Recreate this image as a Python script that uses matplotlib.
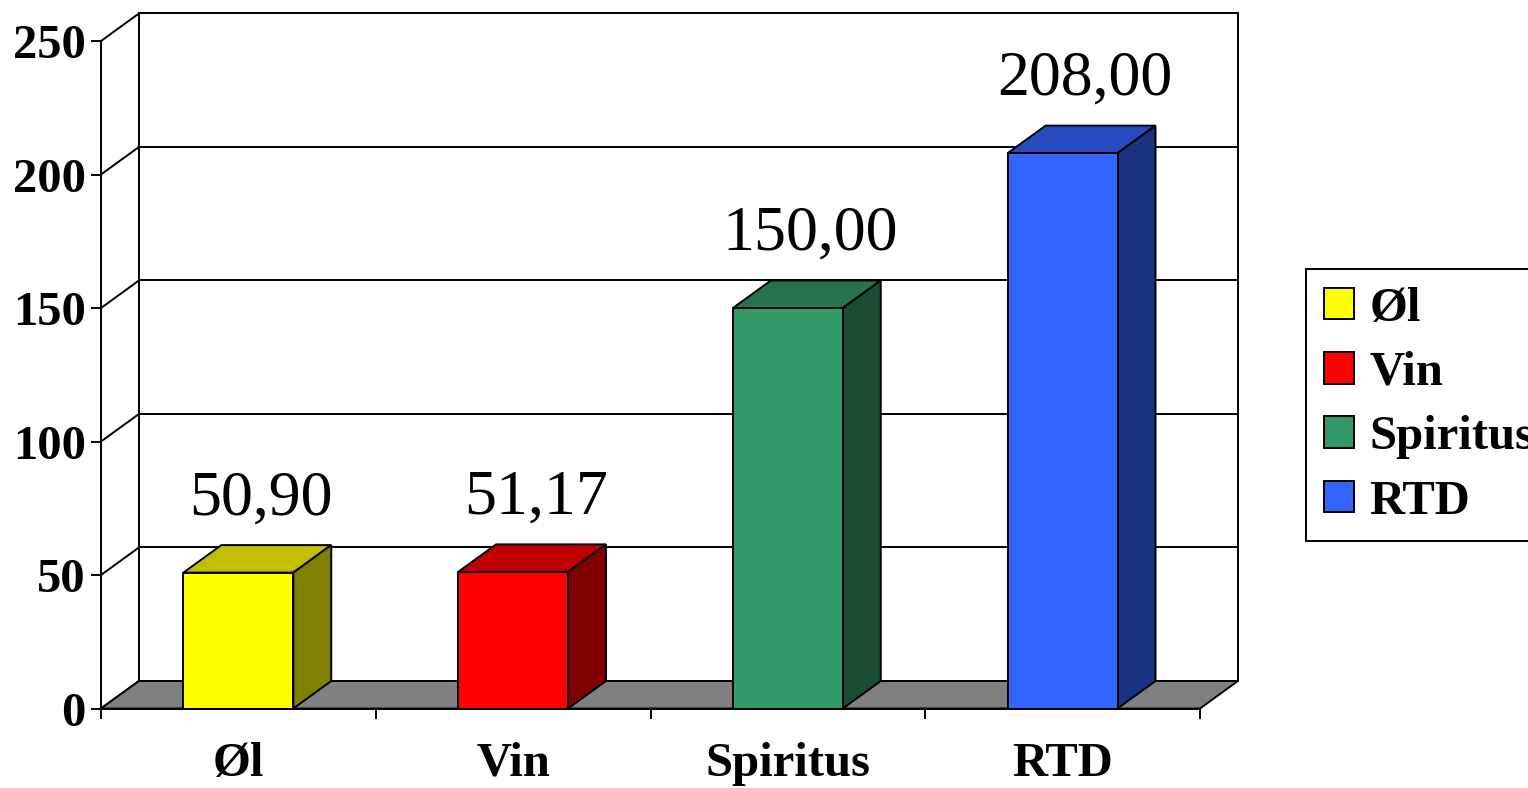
import matplotlib.pyplot as plt
from matplotlib.patches import Polygon, Rectangle


categories = ['Øl', 'Vin', 'Spiritus', 'RTD']
values = [50.90, 51.17, 150.00, 208.00]
front_colors = ['#FFFF00', '#FF0000', '#339966', '#3366FF']
top_colors = ['#C0C000', '#C00000', '#267350', '#264CC0']
side_colors = ['#808000', '#800000', '#1A4D33', '#1A3380']
y_ticks = [0, 50, 100, 150, 200, 250]

FIG_W, FIG_H = 1528, 788
DEPTH_X = 0.138   # depth offset, category units
DEPTH_Y = 10.3    # depth offset, value units
BAR_W = 0.4
LW = 1.4
BOLD = dict(family='Liberation Serif', weight='bold', size=35)


def fig_rect(left, top, right, bottom):
    return [left / FIG_W, 1 - bottom / FIG_H, (right - left) / FIG_W, (bottom - top) / FIG_H]


def draw_walls(ax, n, ymax):
    x0, x1 = -0.5, n - 0.5
    # back wall
    ax.add_patch(Rectangle((x0 + DEPTH_X, DEPTH_Y), x1 - x0, ymax, facecolor='white',
                           edgecolor='black', lw=LW, clip_on=False, zorder=1))
    for v in y_ticks:
        ax.plot([x0 + DEPTH_X, x1 + DEPTH_X], [v + DEPTH_Y, v + DEPTH_Y], color='black',
                lw=LW, clip_on=False, zorder=2)
        ax.plot([x0, x0 + DEPTH_X], [v, v + DEPTH_Y], color='black', lw=LW,
                clip_on=False, zorder=2)
    # floor
    floor = [(x0, 0), (x1, 0), (x1 + DEPTH_X, DEPTH_Y), (x0 + DEPTH_X, DEPTH_Y)]
    ax.add_patch(Polygon(floor, closed=True, facecolor='#808080', edgecolor='black',
                         lw=LW, clip_on=False, zorder=3))


def draw_bar(ax, xc, h, front, top, side, label):
    x0, x1 = xc - BAR_W / 2, xc + BAR_W / 2
    ax.add_patch(Polygon([(x0, h), (x1, h), (x1 + DEPTH_X, h + DEPTH_Y), (x0 + DEPTH_X, h + DEPTH_Y)],
                         closed=True, facecolor=top, edgecolor='black', lw=LW,
                         clip_on=False, zorder=4))
    ax.add_patch(Polygon([(x1, 0), (x1 + DEPTH_X, DEPTH_Y), (x1 + DEPTH_X, h + DEPTH_Y), (x1, h)],
                         closed=True, facecolor=side, edgecolor='black', lw=LW,
                         clip_on=False, zorder=4))
    ax.add_patch(Rectangle((x0, 0), BAR_W, h, facecolor=front, edgecolor='black', lw=LW,
                           clip_on=False, zorder=5, label=label))


def main():
    fig = plt.figure(figsize=(FIG_W / 100, FIG_H / 100), dpi=100)
    ax = fig.add_axes(fig_rect(101, 41, 1200, 708.5))
    ax.patch.set_visible(False)

    n = len(categories)
    ax.set_xlim(-0.5, n - 0.5)
    ax.set_ylim(0, y_ticks[-1])

    draw_walls(ax, n, y_ticks[-1])
    for i, (cat, v) in enumerate(zip(categories, values)):
        draw_bar(ax, i, v, front_colors[i], top_colors[i], side_colors[i], cat)
        ax.text(i + DEPTH_X * 0.6, v + DEPTH_Y + 11.5, f"{v:.2f}".replace('.', ','),
                ha='center', va='baseline', family='Liberation Serif', size=46, zorder=6)

    for s in ['top', 'right']:
        ax.spines[s].set_visible(False)
    for s in ['left', 'bottom']:
        ax.spines[s].set_linewidth(LW)
        ax.spines[s].set_zorder(7)

    ax.set_yticks(y_ticks)
    ax.set_yticklabels([str(t) for t in y_ticks], fontdict=BOLD)
    ax.tick_params(axis='y', direction='out', length=7, width=LW, pad=4)

    ax.set_xticks(range(n))
    ax.set_xticklabels(categories, fontdict=BOLD)
    ax.set_xticks([i - 0.5 for i in range(n + 1)], minor=True)
    ax.tick_params(axis='x', which='major', length=0, pad=24)
    ax.tick_params(axis='x', which='minor', direction='out', length=7.5, width=LW)

    leg = ax.legend(loc='upper left', bbox_to_anchor=(1306 / FIG_W, 1 - 269 / FIG_H),
                    bbox_transform=fig.transFigure, borderaxespad=0, fancybox=False,
                    edgecolor='black', framealpha=1, prop=BOLD, handlelength=0.62,
                    handleheight=0.62, handletextpad=0.33, borderpad=0.36, labelspacing=0.42)
    leg.get_frame().set_linewidth(LW)

    fig.savefig('out.png', dpi=100)
    plt.close(fig)


if __name__ == '__main__':
    main()
